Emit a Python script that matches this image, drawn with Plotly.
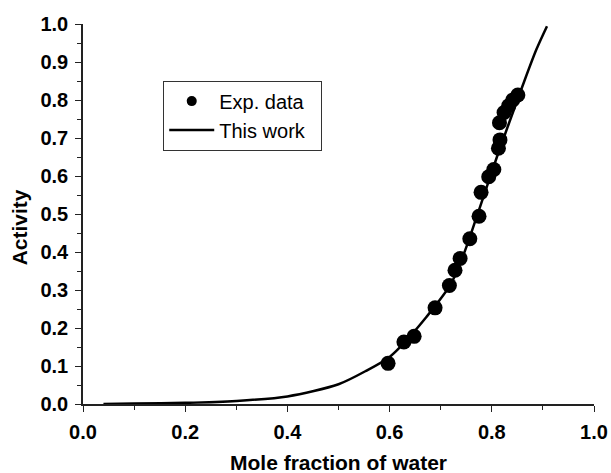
import plotly.graph_objects as go

exp_x = [0.597, 0.628, 0.648, 0.689, 0.717, 0.728, 0.738, 0.757, 0.775, 0.779,
         0.794, 0.804, 0.813, 0.816, 0.815, 0.824, 0.833, 0.841, 0.851]
exp_y = [0.107, 0.163, 0.178, 0.253, 0.312, 0.352, 0.383, 0.435, 0.494, 0.557,
         0.598, 0.617, 0.673, 0.695, 0.740, 0.767, 0.785, 0.800, 0.813]

# Model curve ("This work")
model_x = [0.04, 0.10, 0.20, 0.30, 0.40, 0.50, 0.555, 0.60, 0.62, 0.672,
           0.72, 0.748, 0.777, 0.81, 0.861, 0.887, 0.908]
model_y = [0.000, 0.001, 0.003, 0.008, 0.020, 0.052, 0.088, 0.124, 0.149, 0.229,
           0.316, 0.405, 0.519, 0.650, 0.840, 0.932, 0.994]

x_ticks = [0.0, 0.2, 0.4, 0.6, 0.8, 1.0]
y_ticks = [0.0, 0.1, 0.2, 0.3, 0.4, 0.5, 0.6, 0.7, 0.8, 0.9, 1.0]

legend_names = ["Exp. data", "This work"]

FONT = "Liberation Sans, Arial, Helvetica, sans-serif"
AXIS_COLOR = "#222222"
PAD = "\u00a0\u00a0"

fig = go.Figure()

fig.add_trace(go.Scatter(
    x=exp_x, y=exp_y, mode="markers", name=legend_names[0], showlegend=False,
    marker=dict(symbol="circle", size=15, color="black"),
))
fig.add_trace(go.Scatter(
    x=[None], y=[None], mode="markers", name=legend_names[0] + PAD,
    marker=dict(symbol="circle", size=10, color="black"),
))
fig.add_trace(go.Scatter(
    x=model_x, y=model_y, mode="lines", name=legend_names[1] + PAD,
    line=dict(color="black", width=2.5, shape="spline", smoothing=0.8),
))

axis_common = dict(
    showgrid=False, zeroline=False, showline=True,
    linecolor=AXIS_COLOR, linewidth=1.5,
    ticks="outside", ticklen=6, tickwidth=1.2, tickcolor=AXIS_COLOR,
    tickfont=dict(family=FONT, size=20, color="black", weight="bold"),
    mirror=False,
)

fig.update_xaxes(
    range=[0, 1.0], tickvals=x_ticks, ticktext=[f"{v:.1f}" for v in x_ticks],
    minor=dict(dtick=0.1, tick0=0, ticks="outside", ticklen=4, tickcolor=AXIS_COLOR, tickwidth=1),
    ticklabelstandoff=3,
    **axis_common,
)
fig.update_yaxes(
    range=[0, 1.0], tickvals=y_ticks, ticktext=[f"{v:.1f}" for v in y_ticks],
    minor=dict(dtick=0.05, tick0=0, ticks="outside", ticklen=4, tickcolor=AXIS_COLOR, tickwidth=1),
    ticklabelstandoff=3,
    **axis_common,
)

fig.update_layout(
    width=611, height=473,
    margin=dict(l=83, r=17, t=24, b=69, autoexpand=False),
    plot_bgcolor="white", paper_bgcolor="white",
    font=dict(family=FONT, color="black"),
    legend=dict(
        x=0.157, y=0.851, xanchor="left", yanchor="top",
        bgcolor="white", bordercolor="#333333", borderwidth=1,
        font=dict(family=FONT, size=20, color="black"),
        tracegroupgap=0, itemwidth=45,
    ),
    annotations=[
        dict(text="<b>Mole fraction of water</b>", xref="paper", yref="paper",
             x=0.5, y=-0.155, xanchor="center", yanchor="middle", showarrow=False,
             font=dict(family=FONT, size=21, color="black")),
        dict(text="<b>Activity</b>", xref="paper", yref="paper",
             x=-0.124, y=0.464, xanchor="center", yanchor="middle", showarrow=False,
             textangle=-90, font=dict(family=FONT, size=21, color="black")),
    ],
)

# remove the default page margin so the figure fills the window exactly
fig.write_html(
    "out.html",
    config={"displayModeBar": False},
    post_script="document.body.style.margin='0px';document.body.style.overflow='hidden';",
)
